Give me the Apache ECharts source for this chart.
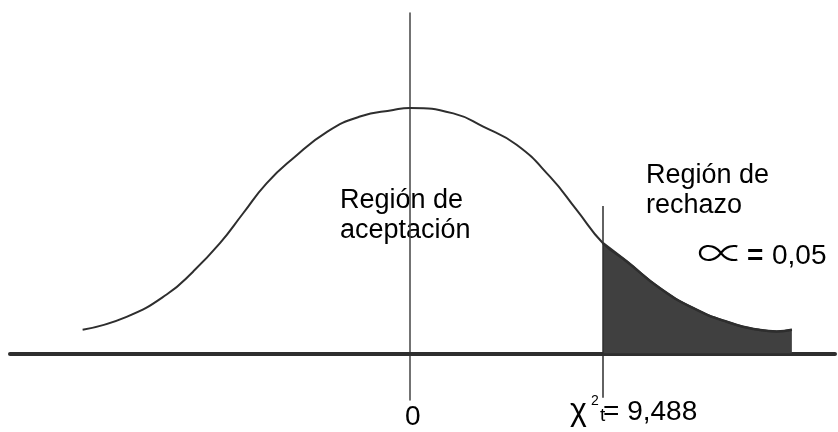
<html lang="es">
<head>
    <meta charset="UTF-8">
    <title>Región de rechazo</title>
    <script src="https://cdn.jsdelivr.net/npm/echarts@6/dist/echarts.min.js"></script>
</head>
<style>
    html, body { margin: 0; padding: 0; background: #fff; }
    #container { width: 838px; height: 432px; }
</style>
<body>
<div id="container"></div>
<script>
    // curve points (x: chi units, y: relative height)
    var curveX = [-16.09, -13.93, -11.96, -10.65, -9.34, -8.20, -7.05, -5.74, -4.06, -2.46, -0.82, 0,
        2.13, 3.60, 5.24, 6.88, 8.19, 9.488, 10.66, 12.29, 13.93, 15.57, 17.21, 18.03, 18.77];
    var curveY = [0.096, 0.149, 0.240, 0.334, 0.449, 0.571, 0.693, 0.795, 0.904, 0.965, 0.992, 1.0,
        0.978, 0.924, 0.850, 0.720, 0.585, 0.449, 0.374, 0.265, 0.184, 0.129, 0.095, 0.089, 0.096];
    var critical = 9.488;
    var criticalLine = [-0.181, 0.601];

    var chart = echarts.init(document.getElementById('container'));

    var whole = [];
    var tail = [];
    for (var i = 0; i < curveX.length; i++)
    {
        whole.push([curveX[i], curveY[i]]);
        if (curveX[i] >= critical) tail.push([curveX[i], curveY[i]]);
    }

    var ink = '#2e2e2e';
    var font = 'Liberation Sans, Arial, sans-serif';

    function txt(x, y, s, size, extra)
    {
        var o = {
            type: 'text', x: x, y: y, silent: true,
            style: { text: s, fontSize: size, fontFamily: font, fill: '#000', verticalAlign: 'middle' }
        };
        if (extra) for (var k in extra) o.style[k] = extra[k];
        return o;
    }

    var option = {
        animation: false,
        grid: { left: 10, right: 3, top: 13, bottom: 32 },
        xAxis: {
            type: 'value', min: -19.66, max: 20.89,
            axisLine: { onZero: true, lineStyle: { color: ink, width: 4 } },
            axisTick: { show: false }, axisLabel: { show: false }, splitLine: { show: false }
        },
        yAxis: {
            type: 'value', min: -0.19, max: 1.387,
            axisLine: { show: true, onZero: true, lineStyle: { color: '#444', width: 1.5 } },
            axisTick: { show: false }, axisLabel: { show: false }, splitLine: { show: false }
        },
        series: [
            {
                type: 'line', data: tail, smooth: 0.5, symbol: 'none', z: 2,
                lineStyle: { color: ink, width: 2.5 },
                areaStyle: { color: '#404040', opacity: 1 },
                markLine: {
                    silent: true, symbol: 'none', label: { show: false },
                    lineStyle: { color: ink, width: 1.5, type: 'solid' },
                    data: [[{ coord: [critical, criticalLine[0]] }, { coord: [critical, criticalLine[1]] }]]
                }
            },
            {
                type: 'line', data: whole, smooth: 0.5, symbol: 'none', z: 3,
                lineStyle: { color: ink, width: 2 }
            }
        ],
        graphic: [
            txt(340, 200.6, 'Región de', 27),
            txt(340, 230.6, 'aceptación', 27),
            txt(646, 175.6, 'Región de', 27),
            txt(646, 205.6, 'rechazo', 27),
            {
                type: 'text', x: 697, y: 253, scaleX: 1.2, silent: true,
                style: { text: '∝', fontSize: 40, fontWeight: 300, fontFamily: 'Noto Sans CJK SC', fill: '#000', verticalAlign: 'middle' }
            },
            txt(747, 256, '=', 28, { fontWeight: 'bold' }),
            txt(772, 256.3, '0,05', 28),
            txt(405, 417.3, '0', 28),
            txt(570, 411, 'χ', 32),
            txt(591, 401, '2', 14),
            txt(600, 415.4, 't', 19),
            txt(603, 412.3, '= 9,488', 28)
        ]
    };

    chart.setOption(option);
</script>
</body>
</html>
